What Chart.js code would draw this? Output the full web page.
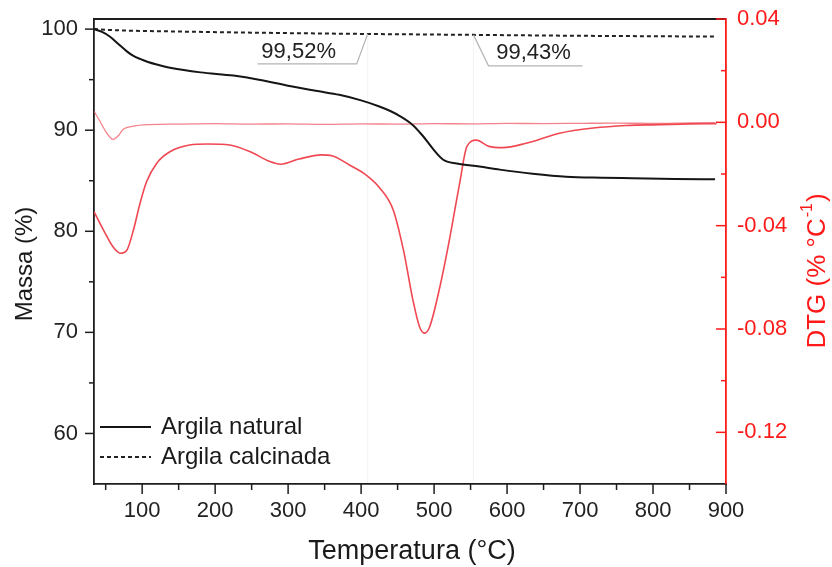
<!DOCTYPE html>
<html>
<head>
<meta charset="utf-8">
<script src="https://cdn.jsdelivr.net/npm/chart.js@4.4.1/dist/chart.umd.min.js"></script>
<style>
  html, body { margin: 0; padding: 0; background: #fff; }
  canvas { display: block; }
</style>
</head>
<body>
<canvas id="c" width="832" height="567"></canvas>
<script>
const FONT = '"Liberation Sans", Arial, Helvetica, sans-serif';

// TG curve – natural clay: temperature (°C) and residual mass (%)
const tgNaturalTemp = [34, 45, 56, 67, 79, 88, 97, 108, 120, 140, 180, 225, 260, 300, 340, 370, 400, 425, 440, 453, 471, 485, 499, 512, 531, 562, 590, 635, 681, 730, 772, 830, 885];
const tgNaturalMass = [100, 99.72, 99.25, 98.55, 97.8, 97.35, 97.05, 96.75, 96.5, 96.15, 95.72, 95.4, 95.0, 94.4, 93.87, 93.5, 92.95, 92.35, 91.9, 91.4, 90.5, 89.4, 88.1, 87.1, 86.7, 86.4, 86.1, 85.7, 85.4, 85.3, 85.25, 85.18, 85.15];

// TG curve – calcined clay
const tgCalcTemp = [34, 50, 80, 150, 250, 409, 554, 700, 885];
const tgCalcMass = [100, 99.93, 99.85, 99.76, 99.65, 99.52, 99.43, 99.34, 99.26];

// DTG curve – natural clay (% °C^-1)
const dtgNaturalTemp = [34, 47, 60, 70, 79, 88, 97, 106, 120, 138, 165, 190, 220, 248, 275, 290, 315, 346, 360, 384, 407, 425, 444, 458, 471, 480, 487, 494, 508, 521, 535, 545, 558, 575, 594, 626, 672, 718, 763, 809, 850, 887];
const dtgNaturalRate = [-0.0346, -0.0417, -0.0482, -0.0507, -0.0495, -0.0417, -0.0314, -0.0230, -0.0158, -0.0114, -0.0088, -0.0084, -0.0088, -0.0114, -0.0152, -0.0162, -0.0142, -0.0126, -0.0129, -0.0165, -0.0204, -0.0252, -0.0339, -0.0494, -0.0688, -0.0791, -0.0816, -0.0791, -0.0636, -0.0455, -0.0236, -0.0093, -0.0069, -0.0093, -0.0098, -0.0081, -0.0042, -0.0022, -0.0012, -0.0009, -0.0006, -0.0005];

// DTG curve – calcined clay
const dtgCalcTemp = [34, 42, 50, 60, 68, 74, 88, 110, 150, 200, 250, 300, 350, 400, 450, 500, 550, 600, 650, 700, 750, 800, 850, 885];
const dtgCalcRate = [0.0043, 0.0005, -0.0035, -0.0066, -0.0050, -0.0027, -0.0015, -0.0009, -0.0007, -0.0005, -0.0007, -0.0006, -0.0008, -0.0006, -0.0007, -0.0005, -0.0006, -0.0004, -0.0005, -0.0004, -0.0003, -0.0004, -0.0002, -0.0001];

// Residual mass callouts on the calcined clay curve
const calloutTemps = [409, 554];
const calloutMass = [99.52, 99.43];

// Axis ticks
const tempTicks = [100, 200, 300, 400, 500, 600, 700, 800, 900];
const tempMinorTicks = [50, 150, 250, 350, 450, 550, 650, 750, 850];
const massTicks = [60, 70, 80, 90, 100];
const massMinorTicks = [65, 75, 85, 95];
const dtgTicks = [-0.12, -0.08, -0.04, 0.00, 0.04];
const dtgMinorTicks = [-0.10, -0.06, -0.02, 0.02];

// Labels
const seriesLabels = ['Argila natural', 'Argila calcinada'];
const xTitle = 'Temperatura (°C)';
const yMassTitle = 'Massa (%)';
const yDtgTitle = 'DTG (% °C';
const yDtgTitleSup = '-1';

const toPoints = (xs, ys) => xs.map((x, i) => ({ x, y: ys[i] }));
const AXIS = '#1e1e1e';
const RED = '#ff1a1a';

const decor = {
  id: 'decor',
  beforeDatasetsDraw(chart) {
    const { ctx, chartArea: a, scales: { x, yMass } } = chart;
    ctx.save();
    ctx.strokeStyle = 'rgba(0,0,0,0.05)';
    ctx.lineWidth = 1;
    calloutTemps.forEach((t, i) => {
      const px = x.getPixelForValue(t);
      const py = yMass.getPixelForValue(calloutMass[i]);
      ctx.beginPath();
      ctx.moveTo(px, py);
      ctx.lineTo(px, a.bottom);
      ctx.stroke();
    });
    ctx.restore();
  },
  afterDraw(chart) {
    const { ctx, chartArea: a, scales: { x, yMass, yDtg } } = chart;
    ctx.save();

    // top frame line
    ctx.strokeStyle = AXIS;
    ctx.lineWidth = 1.8;
    ctx.beginPath();
    ctx.moveTo(a.left, a.top);
    ctx.lineTo(a.right, a.top);
    ctx.stroke();

    // tick marks
    const tick = (x1, y1, x2, y2) => { ctx.beginPath(); ctx.moveTo(x1, y1); ctx.lineTo(x2, y2); ctx.stroke(); };
    ctx.lineWidth = 1.5;
    ctx.strokeStyle = AXIS;
    tempTicks.forEach(v => { const p = x.getPixelForValue(v); tick(p, a.bottom, p, a.bottom + 10); });
    tempMinorTicks.forEach(v => { const p = x.getPixelForValue(v); tick(p, a.bottom, p, a.bottom + 6); });
    massTicks.forEach(v => { const p = yMass.getPixelForValue(v); tick(a.left - 9, p, a.left, p); });
    massMinorTicks.forEach(v => { const p = yMass.getPixelForValue(v); tick(a.left - 5, p, a.left, p); });
    ctx.strokeStyle = RED;
    dtgTicks.forEach(v => { const p = yDtg.getPixelForValue(v); tick(a.right - 10, p, a.right, p); });
    dtgMinorTicks.forEach(v => { const p = yDtg.getPixelForValue(v); tick(a.right - 5, p, a.right, p); });

    // callouts with residual mass
    const offsets = [
      { ex: -11, ey: 30, hx: -110, tx: -69 },
      { ex: 15, ey: 31, hx: 109, tx: 60 }
    ];
    ctx.font = '22px ' + FONT;
    ctx.textAlign = 'center';
    ctx.textBaseline = 'middle';
    calloutTemps.forEach((t, i) => {
      const px = x.getPixelForValue(t);
      const py = yMass.getPixelForValue(calloutMass[i]);
      const o = offsets[i];
      ctx.strokeStyle = '#b4b4b4';
      ctx.lineWidth = 1.2;
      ctx.beginPath();
      ctx.moveTo(px, py);
      ctx.lineTo(px + o.ex, py + o.ey);
      ctx.lineTo(px + o.hx, py + o.ey);
      ctx.stroke();
      ctx.fillStyle = '#222';
      ctx.fillText(calloutMass[i].toFixed(2).replace('.', ',') + '%', px + o.tx, py + 18);
    });

    // legend
    const ds = chart.data.datasets;
    ctx.font = '24px ' + FONT;
    ctx.textAlign = 'left';
    [0, 1].forEach((k, i) => {
      const yy = 427 + i * 30;
      ctx.strokeStyle = ds[k].borderColor;
      ctx.lineWidth = ds[k].borderWidth;
      ctx.setLineDash(ds[k].borderDash || []);
      ctx.beginPath();
      ctx.moveTo(100, yy);
      ctx.lineTo(151, yy);
      ctx.stroke();
      ctx.setLineDash([]);
      ctx.fillStyle = '#1a1a1a';
      ctx.fillText(ds[k].label, 161, yy);
    });

    // axis titles
    ctx.fillStyle = '#1a1a1a';
    ctx.font = '27px ' + FONT;
    ctx.textAlign = 'center';
    ctx.fillText(xTitle, (a.left + a.right) / 2 + 2, 552);

    ctx.save();
    ctx.translate(25, 264);
    ctx.rotate(-Math.PI / 2);
    ctx.font = '24px ' + FONT;
    ctx.fillText(yMassTitle, 0, 0);
    ctx.restore();

    ctx.save();
    ctx.translate(818, 271);
    ctx.rotate(-Math.PI / 2);
    ctx.fillStyle = RED;
    ctx.font = '26px ' + FONT;
    const mainW = ctx.measureText(yDtgTitle).width;
    ctx.font = '16px ' + FONT;
    const supW = ctx.measureText(yDtgTitleSup).width;
    ctx.font = '26px ' + FONT;
    const closeW = ctx.measureText(')').width;
    const total = mainW + supW + closeW + 2;
    ctx.textAlign = 'left';
    let cx = -total / 2;
    ctx.fillText(yDtgTitle, cx, 0);
    cx += mainW + 1;
    ctx.font = '16px ' + FONT;
    ctx.fillText(yDtgTitleSup, cx, -10);
    cx += supW + 1;
    ctx.font = '26px ' + FONT;
    ctx.fillText(')', cx, 0);
    ctx.restore();

    ctx.restore();
  }
};

const fixPad = s => { s.paddingTop = 0; s.paddingBottom = 0; s.paddingLeft = 0; s.paddingRight = 0; };

new Chart(document.getElementById('c'), {
  type: 'line',
  data: {
    datasets: [
      { label: seriesLabels[0], data: toPoints(tgNaturalTemp, tgNaturalMass), yAxisID: 'yMass',
        borderColor: '#151515', borderWidth: 2, cubicInterpolationMode: 'monotone' },
      { label: seriesLabels[1], data: toPoints(tgCalcTemp, tgCalcMass), yAxisID: 'yMass',
        borderColor: '#222', borderWidth: 2, borderDash: [4, 3], cubicInterpolationMode: 'monotone' },
      { label: 'DTG ' + seriesLabels[0], data: toPoints(dtgNaturalTemp, dtgNaturalRate), yAxisID: 'yDtg',
        borderColor: 'rgb(240,72,82)', borderWidth: 1.6, cubicInterpolationMode: 'monotone' },
      { label: 'DTG ' + seriesLabels[1], data: toPoints(dtgCalcTemp, dtgCalcRate), yAxisID: 'yDtg',
        borderColor: 'rgba(240,90,100,0.75)', borderWidth: 1.3, cubicInterpolationMode: 'monotone' }
    ]
  },
  options: {
    responsive: false,
    devicePixelRatio: 1,
    animation: false,
    events: [],
    elements: { point: { radius: 0 } },
    layout: { padding: { top: 19, left: 0, right: 0, bottom: 0 } },
    plugins: { legend: { display: false }, tooltip: { enabled: false } },
    scales: {
      x: {
        type: 'linear', position: 'bottom', min: 34, max: 900,
        afterBuildTicks: s => { s.ticks = tempTicks.map(v => ({ value: v })); },
        afterFit: s => { s.height = 83; fixPad(s); },
        ticks: { font: { family: FONT, size: 22 }, color: '#222', padding: 14, maxRotation: 0, autoSkip: false, callback: v => String(v) },
        grid: { display: true, drawOnChartArea: false, drawTicks: false },
        border: { color: AXIS, width: 1.8 }
      },
      yMass: {
        type: 'linear', position: 'left', min: 55, max: 101,
        afterBuildTicks: s => { s.ticks = massTicks.map(v => ({ value: v })); },
        afterFit: s => { s.width = 94; fixPad(s); },
        ticks: { font: { family: FONT, size: 22 }, color: '#222', padding: 16, callback: v => String(v) },
        grid: { display: true, drawOnChartArea: false, drawTicks: false },
        border: { color: AXIS, width: 1.8 }
      },
      yDtg: {
        type: 'linear', position: 'right', min: -0.14, max: 0.04,
        afterBuildTicks: s => { s.ticks = dtgTicks.map(v => ({ value: v })); },
        afterFit: s => { s.width = 106; fixPad(s); },
        ticks: { font: { family: FONT, size: 22 }, color: RED, padding: 11, callback: v => v.toFixed(2) },
        grid: { display: true, drawOnChartArea: false, drawTicks: false },
        border: { color: RED, width: 1.8 }
      }
    }
  },
  plugins: [decor]
});
</script>
</body>
</html>
